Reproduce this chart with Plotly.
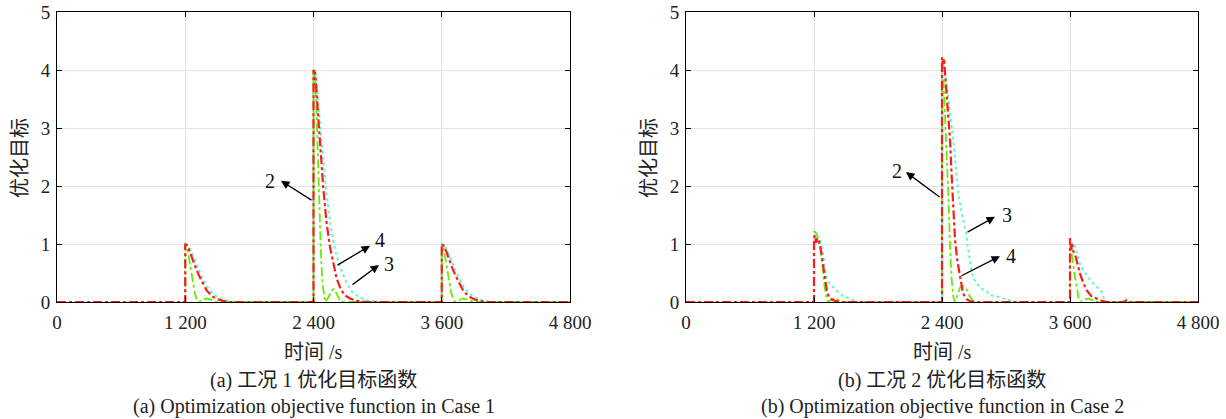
import plotly.graph_objects as go

# ---------------- data ----------------
# Case 1 (left panel)
c1_red_t = [0, 1200, 1200, 1215, 1240, 1270, 1300, 1330, 1360, 1400, 1450, 1500, 1550, 1620,
            2400, 2400, 2415, 2430, 2450, 2467, 2490, 2520, 2554, 2586, 2617, 2660, 2700, 2741, 2800, 2900,
            3600, 3600, 3615, 3640, 3670, 3700, 3730, 3760, 3800, 3850, 3900, 3950, 4020, 4800]
c1_red_v = [0, 0, 1.0, 0.98, 0.88, 0.72, 0.58, 0.45, 0.33, 0.2, 0.1, 0.05, 0.02, 0,
            0, 4.0, 3.95, 3.6, 3.0, 2.6, 2.0, 1.4, 0.95, 0.67, 0.4, 0.2, 0.11, 0.06, 0.02, 0,
            0, 1.0, 0.98, 0.88, 0.72, 0.58, 0.45, 0.33, 0.2, 0.1, 0.05, 0.02, 0, 0]

c1_cyan_t = [0, 1200, 1200, 1220, 1250, 1280, 1310, 1340, 1370, 1410, 1460, 1520, 1580, 1660,
             2400, 2400, 2420, 2440, 2460, 2486, 2520, 2560, 2601, 2650, 2711, 2760, 2820, 2900, 3000,
             3600, 3600, 3620, 3650, 3680, 3710, 3740, 3770, 3810, 3860, 3920, 3980, 4060, 4800]
c1_cyan_v = [0, 0, 1.0, 0.98, 0.9, 0.76, 0.62, 0.5, 0.38, 0.25, 0.14, 0.07, 0.03, 0,
             0, 4.0, 3.95, 3.6, 3.1, 2.6, 1.9, 1.3, 0.9, 0.6, 0.32, 0.18, 0.09, 0.03, 0,
             0, 1.0, 0.98, 0.9, 0.76, 0.62, 0.5, 0.38, 0.25, 0.14, 0.07, 0.03, 0, 0]

c1_green_t = [0, 1200, 1200, 1215, 1240, 1265, 1290, 1310, 1325, 1360, 1400, 1440, 1480, 1500,
              2400, 2400, 2410, 2425, 2440, 2455, 2470, 2485, 2500, 2510, 2540, 2570, 2590, 2615, 2640, 2665,
              3600, 3600, 3615, 3640, 3665, 3690, 3710, 3725, 3760, 3800, 3840, 3880, 3900, 4800]
c1_green_v = [0, 0, 1.0, 0.95, 0.7, 0.4, 0.15, 0.03, 0, 0.03, 0.06, 0.04, 0.01, 0,
              0, 4.0, 3.95, 3.5, 2.6, 1.6, 0.8, 0.3, 0.05, 0, 0.08, 0.2, 0.22, 0.15, 0.05, 0,
              0, 1.0, 0.95, 0.7, 0.4, 0.15, 0.03, 0, 0.03, 0.06, 0.04, 0.01, 0, 0]

# Case 2 (right panel)
c2_red_t = [0, 1200, 1200, 1210, 1220, 1230, 1245, 1260, 1280, 1300, 1320, 1340, 1370, 1400, 1450,
            2400, 2400, 2410, 2420, 2430, 2445, 2460, 2475, 2490, 2505, 2522, 2545, 2569, 2597, 2630, 2670, 2700,
            3600, 3600, 3610, 3620, 3635, 3650, 3670, 3694, 3720, 3757, 3800, 3850, 3900, 3950,
            4100, 4130, 4160, 4800]
c2_red_v = [0, 0, 1.1, 1.15, 1.02, 1.1, 1.05, 0.95, 0.7, 0.45, 0.2, 0.08, 0.04, 0.02, 0,
            0, 4.22, 4.1, 4.2, 3.9, 3.5, 3.1, 2.8, 2.2, 1.6, 1.07, 0.7, 0.44, 0.15, 0.05, 0.01, 0,
            0, 1.1, 0.9, 1.0, 0.85, 0.8, 0.65, 0.49, 0.35, 0.2, 0.1, 0.06, 0.02, 0,
            0, 0.03, 0, 0]

c2_cyan_t = [0, 1200, 1200, 1230, 1260, 1285, 1300, 1320, 1345, 1370, 1400, 1440, 1480, 1510, 1540, 1600,
             2400, 2400, 2420, 2440, 2460, 2480, 2506, 2530, 2560, 2590, 2625, 2650, 2678, 2700, 2720, 2756,
             2790, 2820, 2850, 2900, 2950, 3000, 3050, 3100,
             3600, 3600, 3620, 3647, 3670, 3700, 3725, 3760, 3788, 3820, 3850, 3880, 3897, 3915, 3935, 4800]
c2_cyan_v = [0, 0, 1.0, 1.12, 1.05, 0.85, 0.6, 0.42, 0.32, 0.28, 0.22, 0.15, 0.1, 0.08, 0.05, 0,
             0, 4.15, 4.0, 3.8, 3.5, 3.2, 2.79, 2.3, 1.8, 1.5, 1.19, 0.85, 0.5, 0.4, 0.33, 0.26,
             0.2, 0.18, 0.12, 0.1, 0.08, 0.05, 0.02, 0,
             0, 0.85, 0.9, 0.98, 0.8, 0.62, 0.55, 0.45, 0.38, 0.32, 0.26, 0.2, 0.18, 0.08, 0, 0]

c2_green_t = [0, 1200, 1200, 1215, 1230, 1245, 1260, 1280, 1300, 1320, 1335, 1370, 1400, 1430, 1460,
              2400, 2400, 2415, 2430, 2445, 2460, 2475, 2490, 2505, 2520, 2545, 2570, 2600, 2630, 2660, 2690, 2710,
              3600, 3600, 3620, 3640, 3660, 3680, 3700, 3730, 3770, 3810, 3850, 4800]
c2_green_v = [0, 0, 1.22, 1.2, 1.15, 1.05, 0.95, 0.6, 0.25, 0.05, 0, 0.05, 0.07, 0.03, 0,
              0, 3.85, 3.8, 3.2, 2.5, 1.8, 1.0, 0.4, 0.1, 0, 0.12, 0.25, 0.27, 0.22, 0.1, 0.02, 0,
              0, 0.9, 0.8, 0.5, 0.25, 0.08, 0, 0.04, 0.06, 0.03, 0, 0]

x_tick_vals = [0, 1200, 2400, 3600, 4800]
x_tick_text = ["0", "1 200", "2 400", "3 600", "4 800"]
y_tick_vals = [0, 1, 2, 3, 4, 5]

captions_cn = ["(a) 工况 1 优化目标函数", "(b) 工况 2 优化目标函数"]
captions_en = ["(a) Optimization objective function in Case 1", "(b) Optimization objective function in Case 2"]

# ---------------- styling ----------------
W, H = 1226, 419
FONT = "'Liberation Serif', 'Times New Roman', 'Noto Sans CJK SC', serif"
RED = "#ff1a1a"
GREEN = "#66ee00"
CYAN = "#66f5d0"
TXT = "#222222"

fig = go.Figure()

panels = [
    ("x", "y", c1_red_t, c1_red_v, c1_green_t, c1_green_v, c1_cyan_t, c1_cyan_v),
    ("x2", "y2", c2_red_t, c2_red_v, c2_green_t, c2_green_v, c2_cyan_t, c2_cyan_v),
]
for xa, ya, rt, rv, gt, gv, ct, cv in panels:
    fig.add_trace(go.Scatter(x=ct, y=cv, xaxis=xa, yaxis=ya, mode="lines",
                             line=dict(color=CYAN, width=2, dash="dot"), showlegend=False))
    fig.add_trace(go.Scatter(x=gt, y=gv, xaxis=xa, yaxis=ya, mode="lines",
                             line=dict(color=GREEN, width=1.8, dash="dashdot"), showlegend=False))
    fig.add_trace(go.Scatter(x=rt, y=rv, xaxis=xa, yaxis=ya, mode="lines",
                             line=dict(color=RED, width=2.2, dash="dashdot"), showlegend=False))

# screen pixel -> paper fraction
px = lambda v: v / W
py = lambda v: 1 - v / H

axis_common = dict(showline=True, linecolor="black", linewidth=1, mirror="ticks",
                   ticks="inside", ticklen=5, tickcolor="black", automargin=False,
                   showgrid=True, gridcolor="#e3e3e3", gridwidth=1, zeroline=False,
                   tickfont=dict(family=FONT, size=19, color=TXT))

fig.update_layout(
    width=W, height=H, margin=dict(l=0, r=0, t=0, b=0, autoexpand=False),
    paper_bgcolor="white", plot_bgcolor="white", showlegend=False,
    xaxis=dict(domain=[px(57), px(570)], range=[0, 4800], tickvals=x_tick_vals, ticktext=x_tick_text,
               anchor="y", ticklabelstandoff=3, **axis_common),
    yaxis=dict(domain=[py(302), py(12)], range=[0, 5], tickvals=y_tick_vals, anchor="x",
               ticklabelstandoff=2, **axis_common),
    xaxis2=dict(domain=[px(686), px(1198)], range=[0, 4800], tickvals=x_tick_vals, ticktext=x_tick_text,
                anchor="y2", ticklabelstandoff=3, **axis_common),
    yaxis2=dict(domain=[py(302), py(12)], range=[0, 5], tickvals=y_tick_vals, anchor="x2",
                ticklabelstandoff=2, **axis_common),
)

ann = []
centers = [313.5, 942]
ytitle_x = [20, 649]


def paper_text(text, x, y, angle=0, size=20):
    return dict(text=text, x=px(x), y=py(y), xref="paper", yref="paper", xanchor="center",
                yanchor="middle", showarrow=False, textangle=angle,
                font=dict(family=FONT, size=size, color=TXT))


for i in range(2):
    ann.append(paper_text("时间 /s", centers[i], 352))
    ann.append(paper_text(captions_cn[i], centers[i], 380))
    ann.append(paper_text(captions_en[i], centers[i], 406))
    ann.append(paper_text("优化目标", ytitle_x[i], 158, -90))

# curve labels with arrows: (xref, yref, label, label_x, label_y, head_x, head_y, tail_x, tail_y)
labels = [
    ("x", "y", "2", 1990, 2.09, 2096, 2.09, 2395, 1.74),
    ("x", "y", "4", 3020, 1.07, 2929, 0.97, 2610, 0.62),
    ("x", "y", "3", 3105, 0.66, 3013, 0.64, 2751, 0.28),
    ("x2", "y2", "2", 1975, 2.26, 2062, 2.24, 2391, 1.79),
    ("x2", "y2", "3", 3005, 1.5, 2897, 1.47, 2625, 1.19),
    ("x2", "y2", "4", 3045, 0.79, 2944, 0.79, 2569, 0.44),
]
for xr, yr, lab, lx, ly, hx, hy, tx, ty in labels:
    ann.append(dict(text=lab, x=lx, y=ly, xref=xr, yref=yr, showarrow=False,
                    xanchor="center", yanchor="middle",
                    font=dict(family=FONT, size=20, color="#111")))
    ann.append(dict(text="", x=hx, y=hy, xref=xr, yref=yr, ax=tx, ay=ty, axref=xr, ayref=yr,
                    showarrow=True, arrowhead=2, arrowsize=1.3, arrowwidth=1.3, arrowcolor="black"))

fig.update_layout(annotations=ann)
fig.write_html("out.html", config={"displayModeBar": False},
               post_script="document.body.style.margin='0';document.body.style.overflow='hidden';")
